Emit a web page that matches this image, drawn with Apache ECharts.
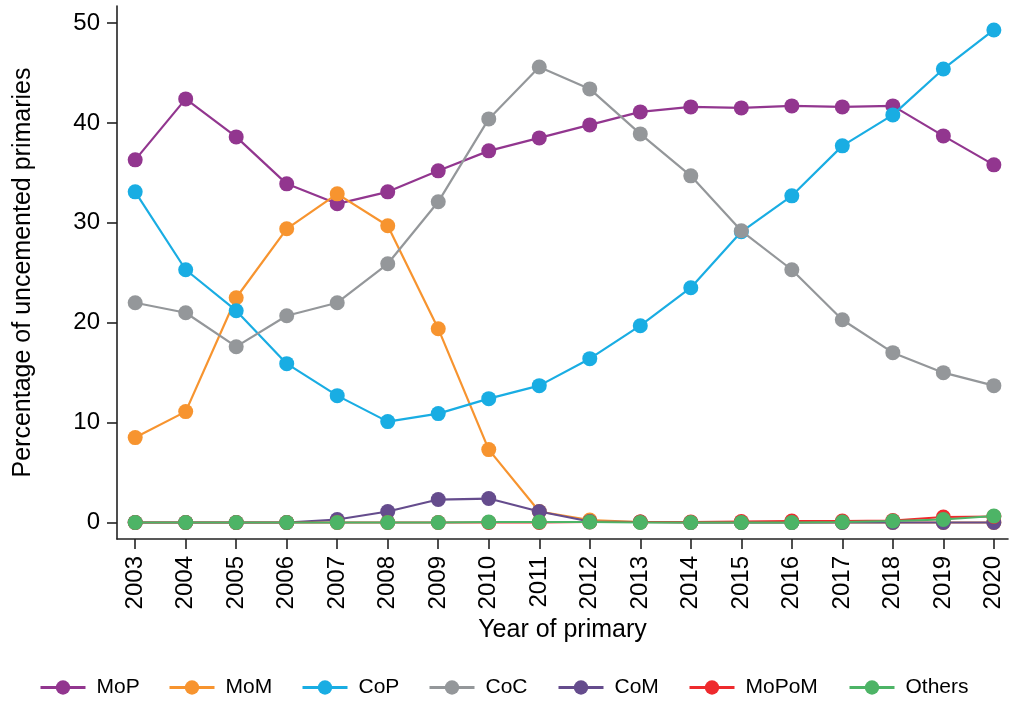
<!DOCTYPE html>
<html>
<head>
<meta charset="utf-8">
<script src="https://cdn.jsdelivr.net/npm/echarts@6/dist/echarts.min.js"></script>
<style>
  html, body { margin: 0; padding: 0; background: #fff; }
  #chart { width: 1009px; height: 702px; }
</style>
</head>
<body>
<div id="chart"></div>
<script>
// Years of primary surgery
const years = [2003, 2004, 2005, 2006, 2007, 2008, 2009, 2010, 2011, 2012,
               2013, 2014, 2015, 2016, 2017, 2018, 2019, 2020];

// Percentage of uncemented primaries by implant combination
const MoP    = [36.3, 42.4, 38.6, 33.9, 31.9, 33.1, 35.2, 37.2, 38.5, 39.8, 41.1, 41.6, 41.5, 41.7, 41.6, 41.7, 38.7, 35.8];
const MoM    = [8.5, 11.1, 22.5, 29.4, 32.9, 29.7, 19.4, 7.3, 1.1, 0.25, 0.05, 0, 0, 0, 0, 0, 0, 0];
const CoP    = [33.1, 25.3, 21.2, 15.9, 12.7, 10.1, 10.9, 12.4, 13.7, 16.4, 19.7, 23.5, 29.1, 32.7, 37.7, 40.8, 45.4, 49.3];
const CoC    = [22.0, 21.0, 17.6, 20.7, 22.0, 25.9, 32.1, 40.4, 45.6, 43.4, 38.9, 34.7, 29.2, 25.3, 20.3, 17.0, 15.0, 13.7];
const CoM    = [0, 0, 0, 0, 0.3, 1.1, 2.3, 2.4, 1.1, 0.1, 0.05, 0, 0, 0, 0, 0, 0, 0];
const MoPoM  = [0, 0, 0, 0, 0, 0, 0, 0, 0, 0.05, 0.05, 0.05, 0.1, 0.15, 0.15, 0.2, 0.55, 0.6];
const Others = [0, 0, 0, 0, 0, 0, 0, 0.05, 0.05, 0.05, 0, 0, 0, 0, 0.05, 0.15, 0.3, 0.65];

const yTicks = [0, 10, 20, 30, 40, 50];

const seriesDefs = [
  { name: 'MoP',    values: MoP,    color: '#92368F', legendLeft: 39 },
  { name: 'MoM',    values: MoM,    color: '#F7942F', legendLeft: 168 },
  { name: 'CoP',    values: CoP,    color: '#19ADE3', legendLeft: 301 },
  { name: 'CoC',    values: CoC,    color: '#94979A', legendLeft: 428 },
  { name: 'CoM',    values: CoM,    color: '#654C8D', legendLeft: 557 },
  { name: 'MoPoM',  values: MoPoM,  color: '#EE2A2D', legendLeft: 688 },
  { name: 'Others', values: Others, color: '#4DB466', legendLeft: 848 }
];

const FONT = 'Liberation Sans, Arial, Helvetica, sans-serif';
const axisColor = '#222';

const chart = echarts.init(document.getElementById('chart'), null, { renderer: 'canvas' });

const option = {
  animation: false,
  backgroundColor: '#fff',
  textStyle: { fontFamily: FONT, color: '#000' },
  grid: { left: 117, right: 1, top: 6, bottom: 163, containLabel: false },
  legend: seriesDefs.map(s => ({
    data: [s.name],
    left: s.legendLeft,
    top: 677,
    padding: 0,
    itemWidth: 45,
    itemHeight: 18,
    lineStyle: { width: 3 },
    textStyle: { fontFamily: FONT, fontSize: 21, color: '#000', padding: [0, 0, 0, 6] }
  })),
  xAxis: {
    type: 'value',
    min: 2002.64,
    max: 2020.28,
    name: 'Year of primary',
    nameLocation: 'middle',
    nameGap: 77,
    nameTextStyle: { fontFamily: FONT, fontSize: 25, color: '#000' },
    splitLine: { show: false },
    axisLine: { show: true, onZero: false, lineStyle: { color: axisColor, width: 1.6 } },
    axisTick: { show: true, length: 10, customValues: years, lineStyle: { color: axisColor, width: 1.6 } },
    axisLabel: {
      customValues: years,
      rotate: 90,
      margin: 17,
      fontFamily: FONT,
      fontSize: 24,
      color: '#000',
      formatter: v => String(Math.round(v))
    }
  },
  yAxis: {
    type: 'value',
    min: -1.65,
    max: 51.7,
    name: 'Percentage of uncemented primaries',
    nameLocation: 'middle',
    nameGap: 81,
    nameTextStyle: { fontFamily: FONT, fontSize: 25, color: '#000' },
    splitLine: { show: false },
    axisLine: { show: true, onZero: false, lineStyle: { color: axisColor, width: 1.6 } },
    axisTick: { show: true, length: 10, customValues: yTicks, lineStyle: { color: axisColor, width: 1.6 } },
    axisLabel: {
      customValues: yTicks,
      margin: 17,
      fontFamily: FONT,
      fontSize: 24,
      color: '#000'
    }
  },
  series: seriesDefs.map((s, i) => ({
    name: s.name,
    type: 'line',
    z: 2 + i,
    data: years.map((y, k) => [y, s.values[k]]),
    symbol: 'circle',
    symbolSize: 15,
    showSymbol: true,
    color: s.color,
    itemStyle: { color: s.color },
    lineStyle: { color: s.color, width: 2.2 },
    emphasis: { disabled: true }
  }))
};

chart.setOption(option);
</script>
</body>
</html>
